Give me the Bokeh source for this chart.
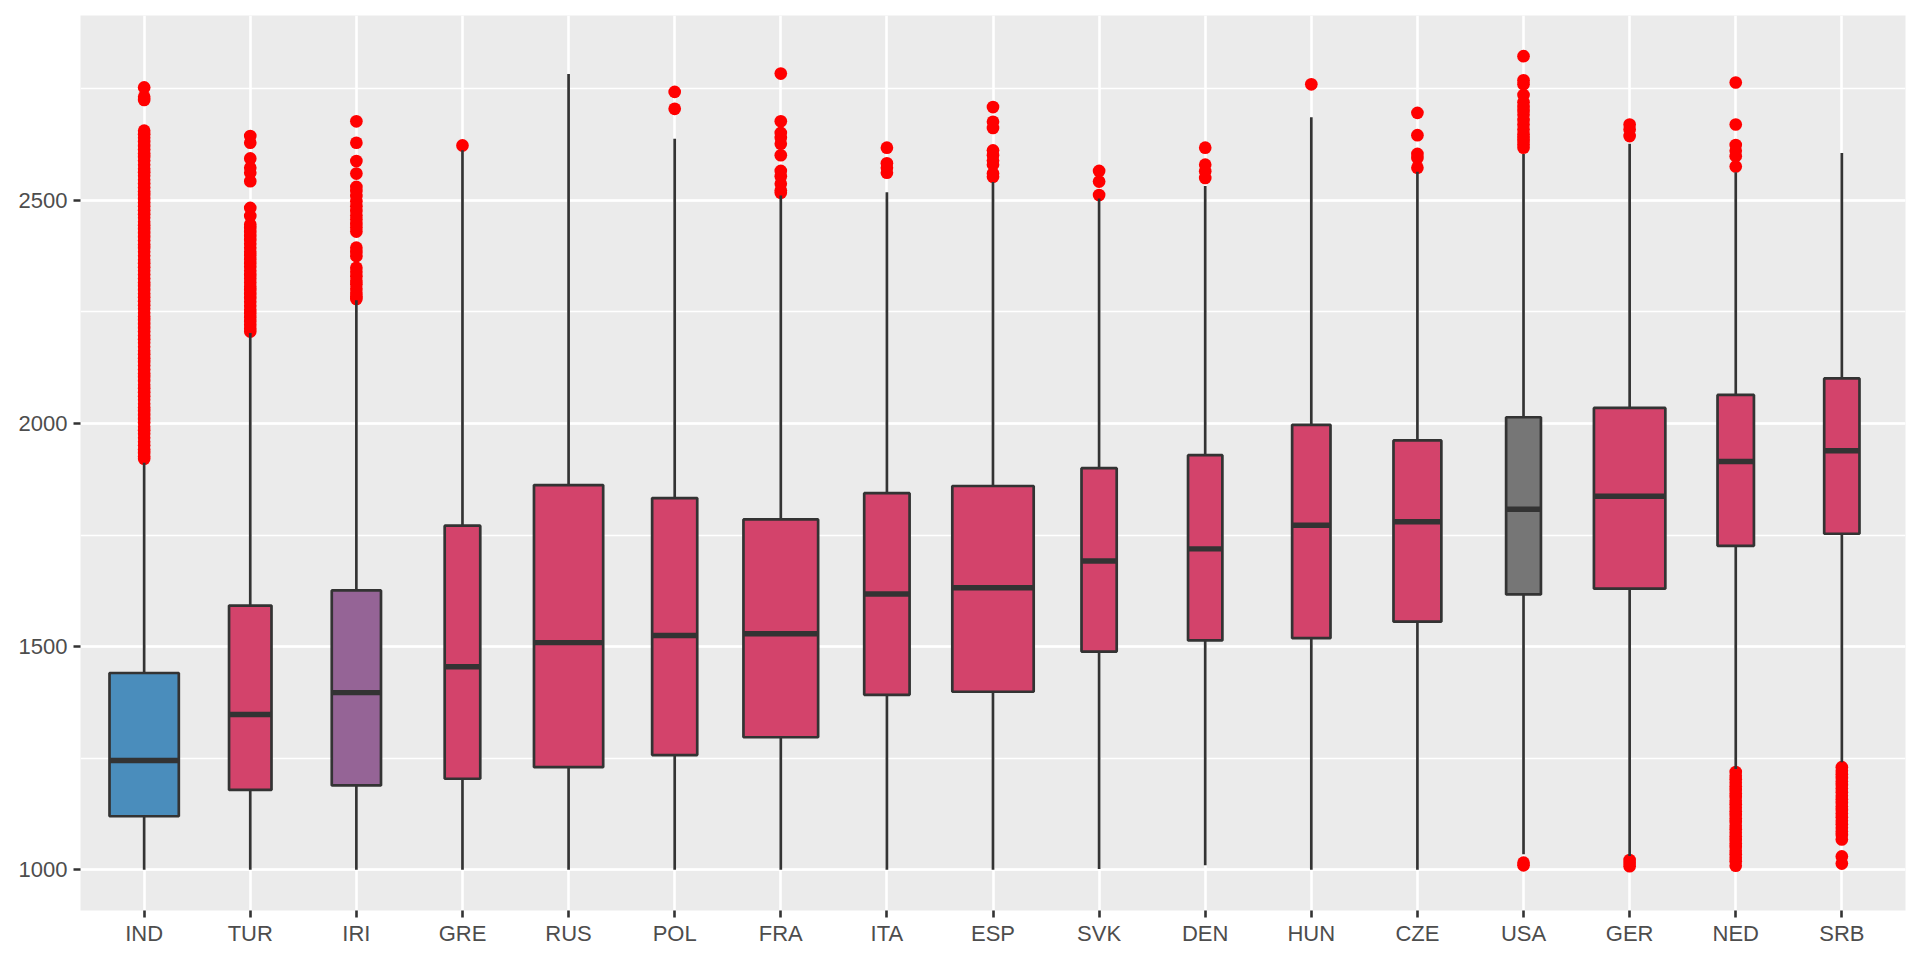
import math
from bokeh.plotting import figure
from bokeh.models import FactorRange, Range1d, SingleIntervalTicker
from bokeh.embed import file_html
from bokeh.resources import INLINE

# ---------------- data ----------------
cats = ["IND", "TUR", "IRI", "GRE", "RUS", "POL", "FRA", "ITA", "ESP",
        "SVK", "DEN", "HUN", "CZE", "USA", "GER", "NED", "SRB"]

lower = [1000, 1000, 1000, 1000, 1000, 1000, 1000, 1000, 1000,
         1002, 1010, 1000, 1000, 1035, 1031, 1226, 1241]
q1 = [1120, 1179, 1189, 1204, 1230, 1257, 1297, 1392, 1399,
      1489, 1514, 1519, 1556, 1617, 1630, 1726, 1753]
median = [1245, 1348, 1397, 1455, 1509, 1525, 1529, 1618, 1632,
          1692, 1719, 1772, 1780, 1808, 1837, 1915, 1939]
q3 = [1441, 1592, 1626, 1771, 1862, 1833, 1785, 1844, 1860,
      1900, 1929, 1997, 1962, 2014, 2035, 2064, 2101]
upper = [1912, 2203, 2276, 2612, 2783, 2638, 2511, 2518, 2541,
         2504, 2532, 2686, 2564, 2604, 2627, 2563, 2606]
# group sizes (box widths are proportional to sqrt(n))
counts = [725, 272, 366, 191, 723, 307, 842, 311, 1000,
          187, 178, 222, 346, 183, 770, 200, 188]

out_IND = [2753, 2732, 2725,
           2656, 2648, 2640, 2631, 2622, 2614, 2605, 2597, 2589, 2580, 2571, 2563,
           2555, 2546, 2538, 2529, 2520, 2512, 2503, 2495, 2487, 2478, 2469, 2461,
           2452, 2444, 2436, 2427, 2418, 2410, 2401, 2393, 2385, 2376, 2367, 2359,
           2350, 2342, 2334, 2325, 2316, 2308, 2299, 2291, 2283, 2274, 2265, 2257,
           2248, 2240, 2232, 2223, 2214, 2206, 2197, 2189, 2181, 2172, 2163, 2155,
           2146, 2138, 2130, 2121, 2112, 2104, 2095, 2087, 2079, 2070, 2061, 2053,
           2044, 2036, 2028, 2019, 2010, 2002, 1993, 1985, 1977, 1968, 1959, 1951,
           1942, 1934, 1926, 1921]
out_TUR = [2644, 2629, 2594, 2573, 2562, 2543, 2483, 2465,
           2446, 2438, 2429, 2420, 2411, 2403, 2394, 2385, 2377, 2368, 2359, 2351,
           2342, 2333, 2325, 2316, 2307, 2299, 2290, 2281, 2273, 2264, 2255, 2247,
           2238, 2229, 2221, 2213, 2206]
out_IRI = [2677, 2629, 2588, 2560, 2530, 2521, 2510, 2498, 2487, 2476, 2466, 2457,
           2447, 2439, 2430, 2394, 2384, 2375, 2349, 2340, 2330, 2320, 2312, 2302,
           2293, 2285, 2279]
out_GRE = [2623]
out_RUS = []
out_POL = [2743, 2705]
out_FRA = [2784, 2677, 2651, 2640, 2627, 2601, 2566, 2554, 2537, 2522, 2517]
out_ITA = [2618, 2583, 2573, 2562]
out_ESP = [2709, 2676, 2662, 2612, 2601, 2589, 2580, 2560, 2553]
out_SVK = [2566, 2542, 2512]
out_DEN = [2618, 2580, 2565, 2550]
out_HUN = [2760]
out_CZE = [2696, 2646, 2604, 2595, 2573]
out_USA = [2823, 2769, 2760, 2736, 2720, 2709, 2700, 2692, 2680, 2670, 2659, 2648,
           2640, 2633, 2625, 2618, 1016, 1010]
out_GER = [2670, 2659, 2644, 1022, 1015, 1008]
out_NED = [2764, 2670, 2624, 2611, 2599, 2576,
           1219, 1211, 1203, 1195, 1187, 1179, 1171, 1163, 1155, 1147, 1139, 1131,
           1123, 1115, 1107, 1099, 1091, 1083, 1075, 1067, 1059, 1051, 1043, 1035,
           1027, 1019, 1009]
out_SRB = [1230, 1222, 1214, 1206, 1198, 1190, 1182, 1174, 1166, 1158, 1150, 1142,
           1134, 1126, 1118, 1110, 1102, 1094, 1086, 1078, 1068, 1030, 1014]

outliers = [out_IND, out_TUR, out_IRI, out_GRE, out_RUS, out_POL, out_FRA, out_ITA,
            out_ESP, out_SVK, out_DEN, out_HUN, out_CZE, out_USA, out_GER, out_NED,
            out_SRB]

# ---------------- styles ----------------
CRIMSON = "#D3436B"
special = {"IND": "#4A8DBC", "IRI": "#956496", "USA": "#767676"}
fills = [special.get(c, CRIMSON) for c in cats]
LINE = "#333333"
LW = 2.7
MAXW = 0.767
nmax = max(counts)
widths = [MAXW * math.sqrt(n / nmax) for n in counts]

ox, oy = [], []
for c, vals in zip(cats, outliers):
    for v in vals:
        ox.append(c)
        oy.append(v)

all_vals = lower + upper + oy
lo, hi = min(all_vals), max(all_vals)
pad = 0.05 * (hi - lo)

p = figure(
    x_range=FactorRange(factors=cats, range_padding=0.1, range_padding_units="absolute"),
    y_range=Range1d(lo - pad, hi + pad),
    width=1915, height=955,
    output_backend="svg", toolbar_location=None,
    min_border_left=80, min_border_right=10, min_border_top=15, min_border_bottom=45,
)
p.background_fill_color = "#EBEBEB"
p.border_fill_color = "white"
p.outline_line_color = None

ticker = SingleIntervalTicker(interval=500, num_minor_ticks=2)
p.yaxis.ticker = ticker
p.ygrid.ticker = ticker

for g in (p.xgrid, p.ygrid):
    g.grid_line_color = "white"
    g.grid_line_width = 2.6
p.ygrid.minor_grid_line_color = "white"
p.ygrid.minor_grid_line_width = 1.3

for ax in (p.xaxis, p.yaxis):
    ax.axis_line_color = None
    ax.major_tick_line_color = LINE
    ax.major_tick_line_width = 2.6
    ax.major_tick_out = 7
    ax.major_tick_in = 0
    ax.minor_tick_line_color = None
    ax.major_label_text_font = "Liberation Sans"
    ax.major_label_text_font_size = "22px"
    ax.major_label_text_color = "#4D4D4D"
p.yaxis.major_label_standoff = 6
p.xaxis.major_label_standoff = 3

# outliers (drawn first, like ggplot)
p.scatter(x=ox, y=oy, size=12.7, fill_color="#FF0000", line_color=None)

# whiskers
p.segment(x0=cats, y0=q3, x1=cats, y1=upper, line_color=LINE, line_width=LW)
p.segment(x0=cats, y0=q1, x1=cats, y1=lower, line_color=LINE, line_width=LW)

# boxes
p.vbar(x=cats, width=widths, top=q3, bottom=q1, fill_color=fills,
       line_color=LINE, line_width=LW)

# medians
p.rect(x=cats, y=median, width=widths, height=5.4, height_units="screen",
       fill_color=LINE, line_color=None)

open("out.html", "w").write(file_html(p, INLINE))
